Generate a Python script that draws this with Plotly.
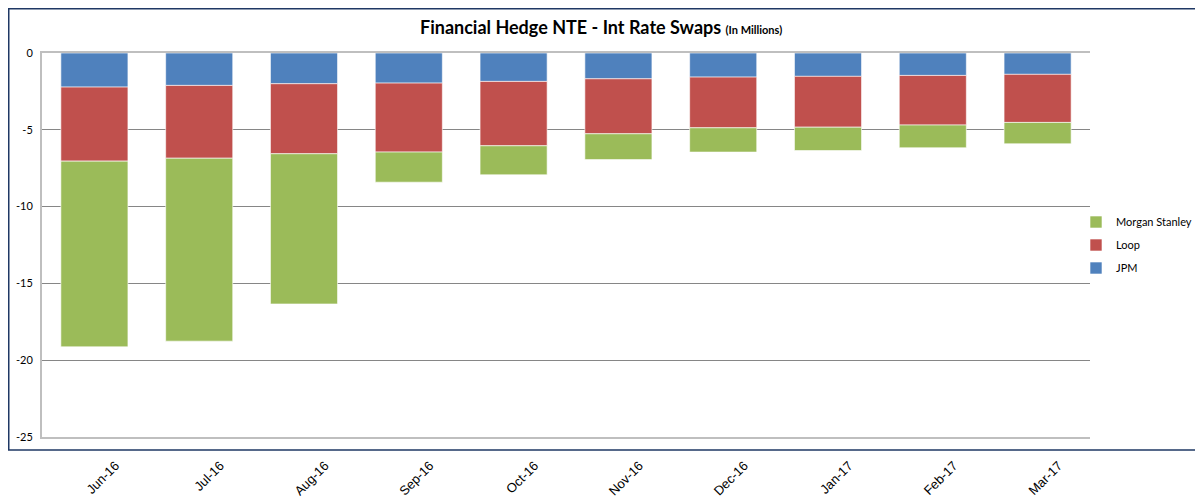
import plotly.graph_objects as go

months = ["Jun-16", "Jul-16", "Aug-16", "Sep-16", "Oct-16", "Nov-16", "Dec-16", "Jan-17", "Feb-17", "Mar-17"]
jpm = [-2.22, -2.11, -2.00, -1.96, -1.85, -1.68, -1.57, -1.52, -1.46, -1.39]
loop = [-4.82, -4.74, -4.56, -4.49, -4.19, -3.58, -3.30, -3.31, -3.23, -3.13]
morgan_stanley = [-12.09, -11.91, -9.78, -1.96, -1.89, -1.68, -1.58, -1.52, -1.48, -1.39]
y_ticks = [0, -5, -10, -15, -20, -25]

W, H = 1195, 494
L, R, T, B = 34, 113, 45, 65
PW, PH = W - L - R, H - T - B

fig = go.Figure()
series = [("JPM", jpm, "#4F81BD", 3), ("Loop", loop, "#C0504D", 2), ("Morgan Stanley", morgan_stanley, "#9BBB59", 1)]
for name, vals, col, rank in series:
    fig.add_trace(go.Bar(x=months, y=vals, name=name, legendgroup=name, legendrank=rank,
                         marker=dict(color=col, line=dict(color="rgba(255,255,255,0.6)", width=1))))

fig.update_layout(
    width=W, height=H,
    barmode="relative", bargap=0.36,
    paper_bgcolor="white", plot_bgcolor="white",
    margin=dict(l=L, r=R, t=T, b=B, autoexpand=False),
    title=dict(text="<b>Financial Hedge NTE - Int Rate Swaps <span style='font-size:11px'>(In Millions)</span></b>",
               x=0.4963, xanchor="center", y=1 - 20 / H, yanchor="middle",
               font=dict(family="Lato, Carlito, Calibri, sans-serif", size=18, color="#000000")),
    legend=dict(traceorder="grouped", x=(1068 - L) / PW, xanchor="left", y=0.5, yanchor="middle",
                font=dict(family="Lato, Calibri, sans-serif", size=11, color="#000000"),
                itemwidth=30, tracegroupgap=4, bgcolor="rgba(0,0,0,0)"),
    showlegend=True,
    font=dict(family="Lato, Calibri, sans-serif"),
)

fig.update_xaxes(
    type="category", tickangle=-45, showgrid=False,
    showline=True, mirror=True, linecolor="#BFBFBF", linewidth=2,
    ticks="", ticklabelstandoff=14, ticklabelshift=21,
    tickfont=dict(family="Liberation Sans, Arial, sans-serif", size=13, color="#000000"),
)
fig.update_yaxes(
    range=[-25, 0], tickvals=y_ticks, ticktext=[str(v) for v in y_ticks],
    showgrid=True, gridcolor="#868686", gridwidth=1,
    zeroline=False, showline=True, linecolor="#BFBFBF", linewidth=2,
    ticks="", ticklabelstandoff=5,
    tickfont=dict(family="Lato, Calibri, sans-serif", size=11, color="#000000"),
)

# chart frame
fig.add_shape(type="rect", xref="paper", yref="paper",
              x0=(0.75 - L) / PW, x1=(1200 - L) / PW, y0=-(442 - (T + PH)) / PH, y1=(T + PH - 0.75) / PH,
              line=dict(color="#1F3864", width=1.5), fillcolor="rgba(0,0,0,0)", layer="below")

fig.write_html("out.html")
